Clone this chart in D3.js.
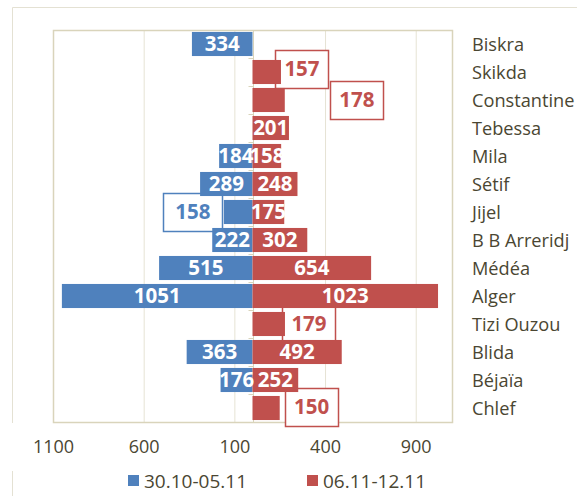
<!DOCTYPE html>
<html>
<head>
<meta charset="utf-8">
<script src="https://cdn.jsdelivr.net/npm/d3@7"></script>
<style>
  body { margin: 0; background: #fff; }
  svg { display: block; font-family: "Open Sans", sans-serif; }
</style>
</head>
<body>
<script>
// categories top to bottom
const categories = ["Biskra", "Skikda", "Constantine", "Tebessa", "Mila", "Sétif", "Jijel",
  "B B Arreridj", "Médéa", "Alger", "Tizi Ouzou", "Blida", "Béjaïa", "Chlef"];
const seriesNames = ["30.10-05.11", "06.11-12.11"];
const week1 = [334, 0, 0, 0, 184, 289, 158, 222, 515, 1051, 0, 363, 176, 0];
const week2 = [0, 157, 178, 201, 158, 248, 175, 302, 654, 1023, 179, 492, 252, 150];
const tickValues = [-1100, -600, -100, 400, 900];

const colors = ["#4F81BD", "#C0504D"];
const textColor = "#4A4632";

// labels that excel moved out into boxes: series index, category, offset of box centre from bar end
const callouts = [
  {s: 1, cat: "Skikda", dx: 21, dy: -3},
  {s: 1, cat: "Constantine", dx: 72, dy: 0},
  {s: 0, cat: "Jijel", dx: -31, dy: 0},
  {s: 1, cat: "Tizi Ouzou", dx: 24, dy: 0},
  {s: 1, cat: "Chlef", dx: 32, dy: -1}
];

const width = 577, height = 496;
const plot = {left: 53, right: 452, top: 30, bottom: 422};

const svg = d3.select("body").append("svg")
  .attr("width", width)
  .attr("height", height);

// outer chart border (with the gap near the axis labels like the original)
svg.append("path")
  .attr("d", `M12.5,${height} V471 M12.5,423 V7.5 H${width}`)
  .attr("fill", "none")
  .attr("stroke", "#E4E1D3")
  .attr("stroke-width", 1);

const x = d3.scaleLinear().domain([-1100, 1100]).range([plot.left, plot.right]);
const y = d3.scaleBand().domain(categories).range([plot.top, plot.bottom])
  .paddingInner(0.14).paddingOuter(0.07);

// gridlines
svg.append("g")
  .selectAll("line")
  .data(tickValues)
  .enter()
    .append("line")
    .attr("x1", d => x(d) + 0.5)
    .attr("x2", d => x(d) + 0.5)
    .attr("y1", plot.top)
    .attr("y2", plot.bottom)
    .attr("stroke", "#E6E3D4");

// plot border
svg.append("rect")
  .attr("x", plot.left + 0.5)
  .attr("y", plot.top + 0.5)
  .attr("width", plot.right - plot.left)
  .attr("height", plot.bottom - plot.top)
  .attr("fill", "none")
  .attr("stroke", "#D9D4BB")
  .attr("stroke-width", 1.5);

// x axis labels
const xAxis = svg.append("g")
  .attr("transform", `translate(0,${plot.bottom + 15})`)
  .call(d3.axisBottom(x).tickValues(tickValues).tickSize(0).tickFormat(d => Math.abs(d)));
xAxis.select(".domain").remove();
xAxis.selectAll("text")
  .attr("fill", textColor)
  .attr("font-size", "18px")
  .attr("font-family", "Open Sans");

// category axis at zero
const yAxis = svg.append("g")
  .attr("transform", `translate(${Math.round(x(0)) + 0.5},0)`);
yAxis.append("line")
  .attr("y1", plot.top)
  .attr("y2", plot.bottom)
  .attr("stroke", "#D9D4BB");
yAxis.selectAll(".tick")
  .data(d3.range(categories.length + 1))
  .enter()
    .append("line")
    .attr("x1", -5)
    .attr("x2", 0)
    .attr("y1", i => plot.top + i * y.step() + 0.5)
    .attr("y2", i => plot.top + i * y.step() + 0.5)
    .attr("stroke", "#D9D4BB");

// callout boxes (drawn under the bars)
const seriesData = [week1, week2];
function barEnd(s, i) {
  const v = seriesData[s][i];
  return s === 0 ? x(-v) : x(v);
}
const boxW = 53, boxH = 38;
const calloutG = svg.append("g");
callouts.forEach(c => {
  const i = categories.indexOf(c.cat);
  const cx = barEnd(c.s, i) + c.dx;
  const cy = y(c.cat) + y.bandwidth() / 2 + c.dy;
  const w = c.s === 0 ? 59 : boxW;
  calloutG.append("rect")
    .attr("x", Math.round(cx - w / 2) + 0.5)
    .attr("y", Math.round(cy - boxH / 2) + 0.5)
    .attr("width", w)
    .attr("height", boxH)
    .attr("fill", "#fff")
    .attr("stroke", colors[c.s])
    .attr("stroke-width", 1.5);
  calloutG.append("text")
    .attr("x", cx)
    .attr("y", cy)
    .attr("dy", "0.36em")
    .attr("text-anchor", "middle")
    .attr("font-size", "20.5px")
    .attr("font-weight", "bold")
    .attr("fill", colors[c.s])
    .text(seriesData[c.s][i]);
});

// bars
seriesData.forEach((vals, s) => {
  svg.append("g")
    .selectAll("rect")
    .data(vals.map((v, i) => ({v: v, cat: categories[i]})).filter(d => d.v > 0))
    .enter()
      .append("rect")
      .attr("x", d => s === 0 ? x(-d.v) : x(0))
      .attr("y", d => y(d.cat))
      .attr("width", d => x(d.v) - x(0))
      .attr("height", y.bandwidth())
      .attr("fill", colors[s]);
});

// data labels inside bars
const boxed = new Set(callouts.map(c => c.s + "|" + c.cat));
seriesData.forEach((vals, s) => {
  svg.append("g")
    .selectAll("text")
    .data(vals.map((v, i) => ({v: v, cat: categories[i]}))
      .filter(d => d.v > 0 && !boxed.has(s + "|" + d.cat)))
    .enter()
      .append("text")
      .attr("x", d => s === 0 ? (x(-d.v) + x(0)) / 2 : (x(d.v) + x(0)) / 2)
      .attr("y", d => y(d.cat) + y.bandwidth() / 2)
      .attr("dy", "0.36em")
      .attr("text-anchor", "middle")
      .attr("font-size", "20.5px")
      .attr("font-weight", "bold")
      .attr("fill", "#fff")
      .text(d => d.v);
});

// category names on the right
svg.append("g")
  .selectAll("text")
  .data(categories)
  .enter()
    .append("text")
    .attr("x", 472)
    .attr("y", d => y(d) + y.bandwidth() / 2)
    .attr("dy", "0.36em")
    .attr("font-size", "18.2px")
    .attr("fill", textColor)
    .text(d => d);

// legend
const legendX = [128, 307];
const legend = svg.append("g")
  .selectAll("g")
  .data(seriesNames)
  .enter()
    .append("g")
    .attr("transform", (d, i) => `translate(${legendX[i]},475)`);
legend.append("rect")
  .attr("width", 11)
  .attr("height", 11)
  .attr("fill", (d, i) => colors[i]);
legend.append("text")
  .attr("x", 16)
  .attr("y", 6)
  .attr("dy", "0.36em")
  .attr("font-size", "19px")
  .attr("fill", textColor)
  .text(d => d);
</script>
</body>
</html>
